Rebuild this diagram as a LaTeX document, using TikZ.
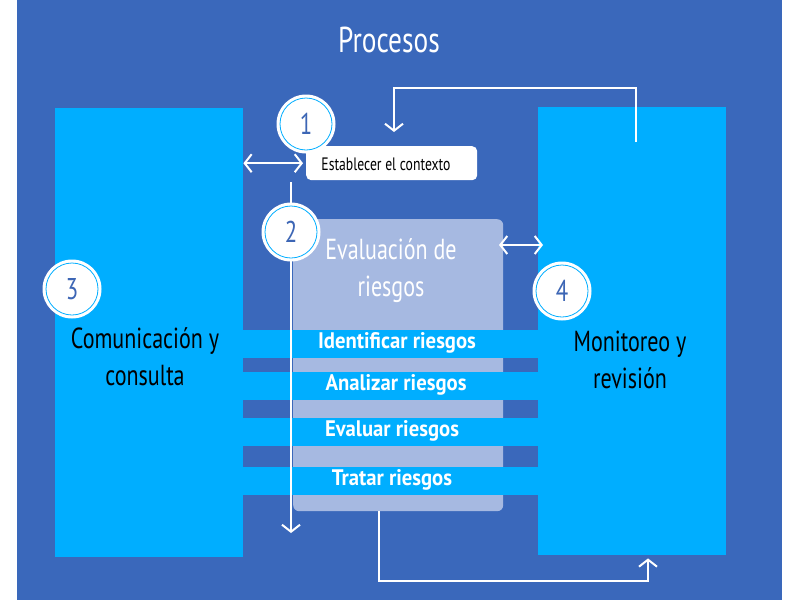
\documentclass[tikz,border=0pt]{standalone}
\usepackage{fontspec}
\setmainfont{PT Sans}
\newfontfamily\cond{PT Sans}[FakeStretch=0.76]
\newfontfamily\condb{PT Sans Bold}[FakeStretch=0.92]
\usetikzlibrary{arrows.meta,calc}
\definecolor{bgblue}{RGB}{58,104,187}
\definecolor{cyanp}{RGB}{0,174,255}
\definecolor{grayb}{RGB}{166,185,225}
\definecolor{numblue}{RGB}{61,102,181}
\tikzset{
  panel/.style={fill=cyanp, draw=none, anchor=north west, inner sep=0pt},
  band/.style={fill=cyanp, draw=none, anchor=north west, inner sep=0pt, minimum width=295pt, minimum height=28pt},
  bandtxt/.style={text=white, font=\condb\fontsize{22.5}{24}\selectfont, inner sep=0pt},
  numc/.style={circle, fill=white, draw=none, minimum size=59pt, inner sep=0pt, text=numblue, font=\cond\fontsize{30}{32}\selectfont},
  ring/.style={draw=cyanp, line width=0.8pt},
  bigtxt/.style={align=center, font=\cond\fontsize{29}{37}\selectfont, inner sep=0pt},
  arr/.style={draw=white, line width=2pt, -{Straight Barb[length=7pt,width=18pt]}},
  arr2/.style={draw=white, line width=2pt, {Straight Barb[length=7pt,width=18pt]}-{Straight Barb[length=7pt,width=18pt]}}
}
\begin{document}
\begin{tikzpicture}[x=1pt,y=-1pt]
\useasboundingbox (0,0) rectangle (800,600);
\fill[white] (0,0) rectangle (800,600);
\fill[bgblue] (17,0) rectangle (782,600);

% title
\node[text=white, font=\cond\fontsize{36}{40}\selectfont, inner sep=0pt] (title) at (389,40) {Procesos};

% panels
\node[panel, minimum width=188pt, minimum height=449pt] (left) at (55,108) {};
\node[panel, minimum width=188pt, minimum height=448pt] (right) at (538,107) {};

% gray evaluation box
\node[fill=grayb, draw=none, rounded corners=6pt, anchor=north west, minimum width=210pt, minimum height=292pt, inner sep=0pt] (box) at (293,219) {};

% bands
\node[band] (b1) at (243,330) {};
\node[band] (b2) at (243,372) {};
\node[band] (b3) at (243,418) {};
\node[band] (b4) at (243,467) {};
\node[bandtxt] (t1) at (397,343) {Identificar riesgos};
\node[bandtxt] (t2) at (396,385) {Analizar riesgos};
\node[bandtxt] (t3) at (392,431) {Evaluar riesgos};
\node[bandtxt] (t4) at (392,480) {Tratar riesgos};

% texts
\node[bigtxt, text=white] (evaltxt) at (391,271) {Evaluación de\\riesgos};
\node[bigtxt, text=black] (comtxt) at (145,357) {Comunicación y\\consulta};
\node[bigtxt, text=black] (montxt) at (630,360) {Monitoreo y\\revisión};

% context box
\node[fill=white, rounded corners=5pt, anchor=north west, minimum width=171pt, minimum height=34pt, inner sep=0pt] (ctx) at (306,146) {};
\node[text=black, font=\cond\fontsize{18}{20}\selectfont, inner sep=0pt] (ctxtxt) at (386,164) {Establecer el contexto};

% circle 2 position first (for vertical line)
\coordinate (c2pos) at (291,232);
\coordinate (vbot) at (291,533);

% connectors
\draw[arr2, shorten >=3pt] (left.east |- ctx.west) -- (ctx.west);
\draw[arr, shorten <=2pt] (ctx.south -| c2pos) -- (vbot);
\coordinate (tstart) at (636,142);
\coordinate (tr) at (636,88);
\coordinate (tl) at (394,88);
\draw[arr, shorten >=14pt] (tstart) -- (tr) -- (tl) -- (ctx.north -| tl);
\coordinate (ra) at (499,245);
\coordinate (rb) at (543,245);
\draw[arr2] (ra) -- (rb);
\coordinate (bs) at (379,511);
\coordinate (bl) at (379,581);
\coordinate (br) at (648,581);
\draw[arr, shorten >=3pt] (bs) -- (bl) -- (br) -- (right.south -| br);

% number circles
\node[numc] (c1) at (306,124) {1};
\node[numc] (c2) at (c2pos) {2};
\node[numc] (c3) at (72,289) {3};
\node[numc] (c4) at (562,291) {4};
\foreach \c in {c1,c2,c3,c4} \draw[ring] (\c.center) circle[radius=26pt];
\end{tikzpicture}
\end{document}
